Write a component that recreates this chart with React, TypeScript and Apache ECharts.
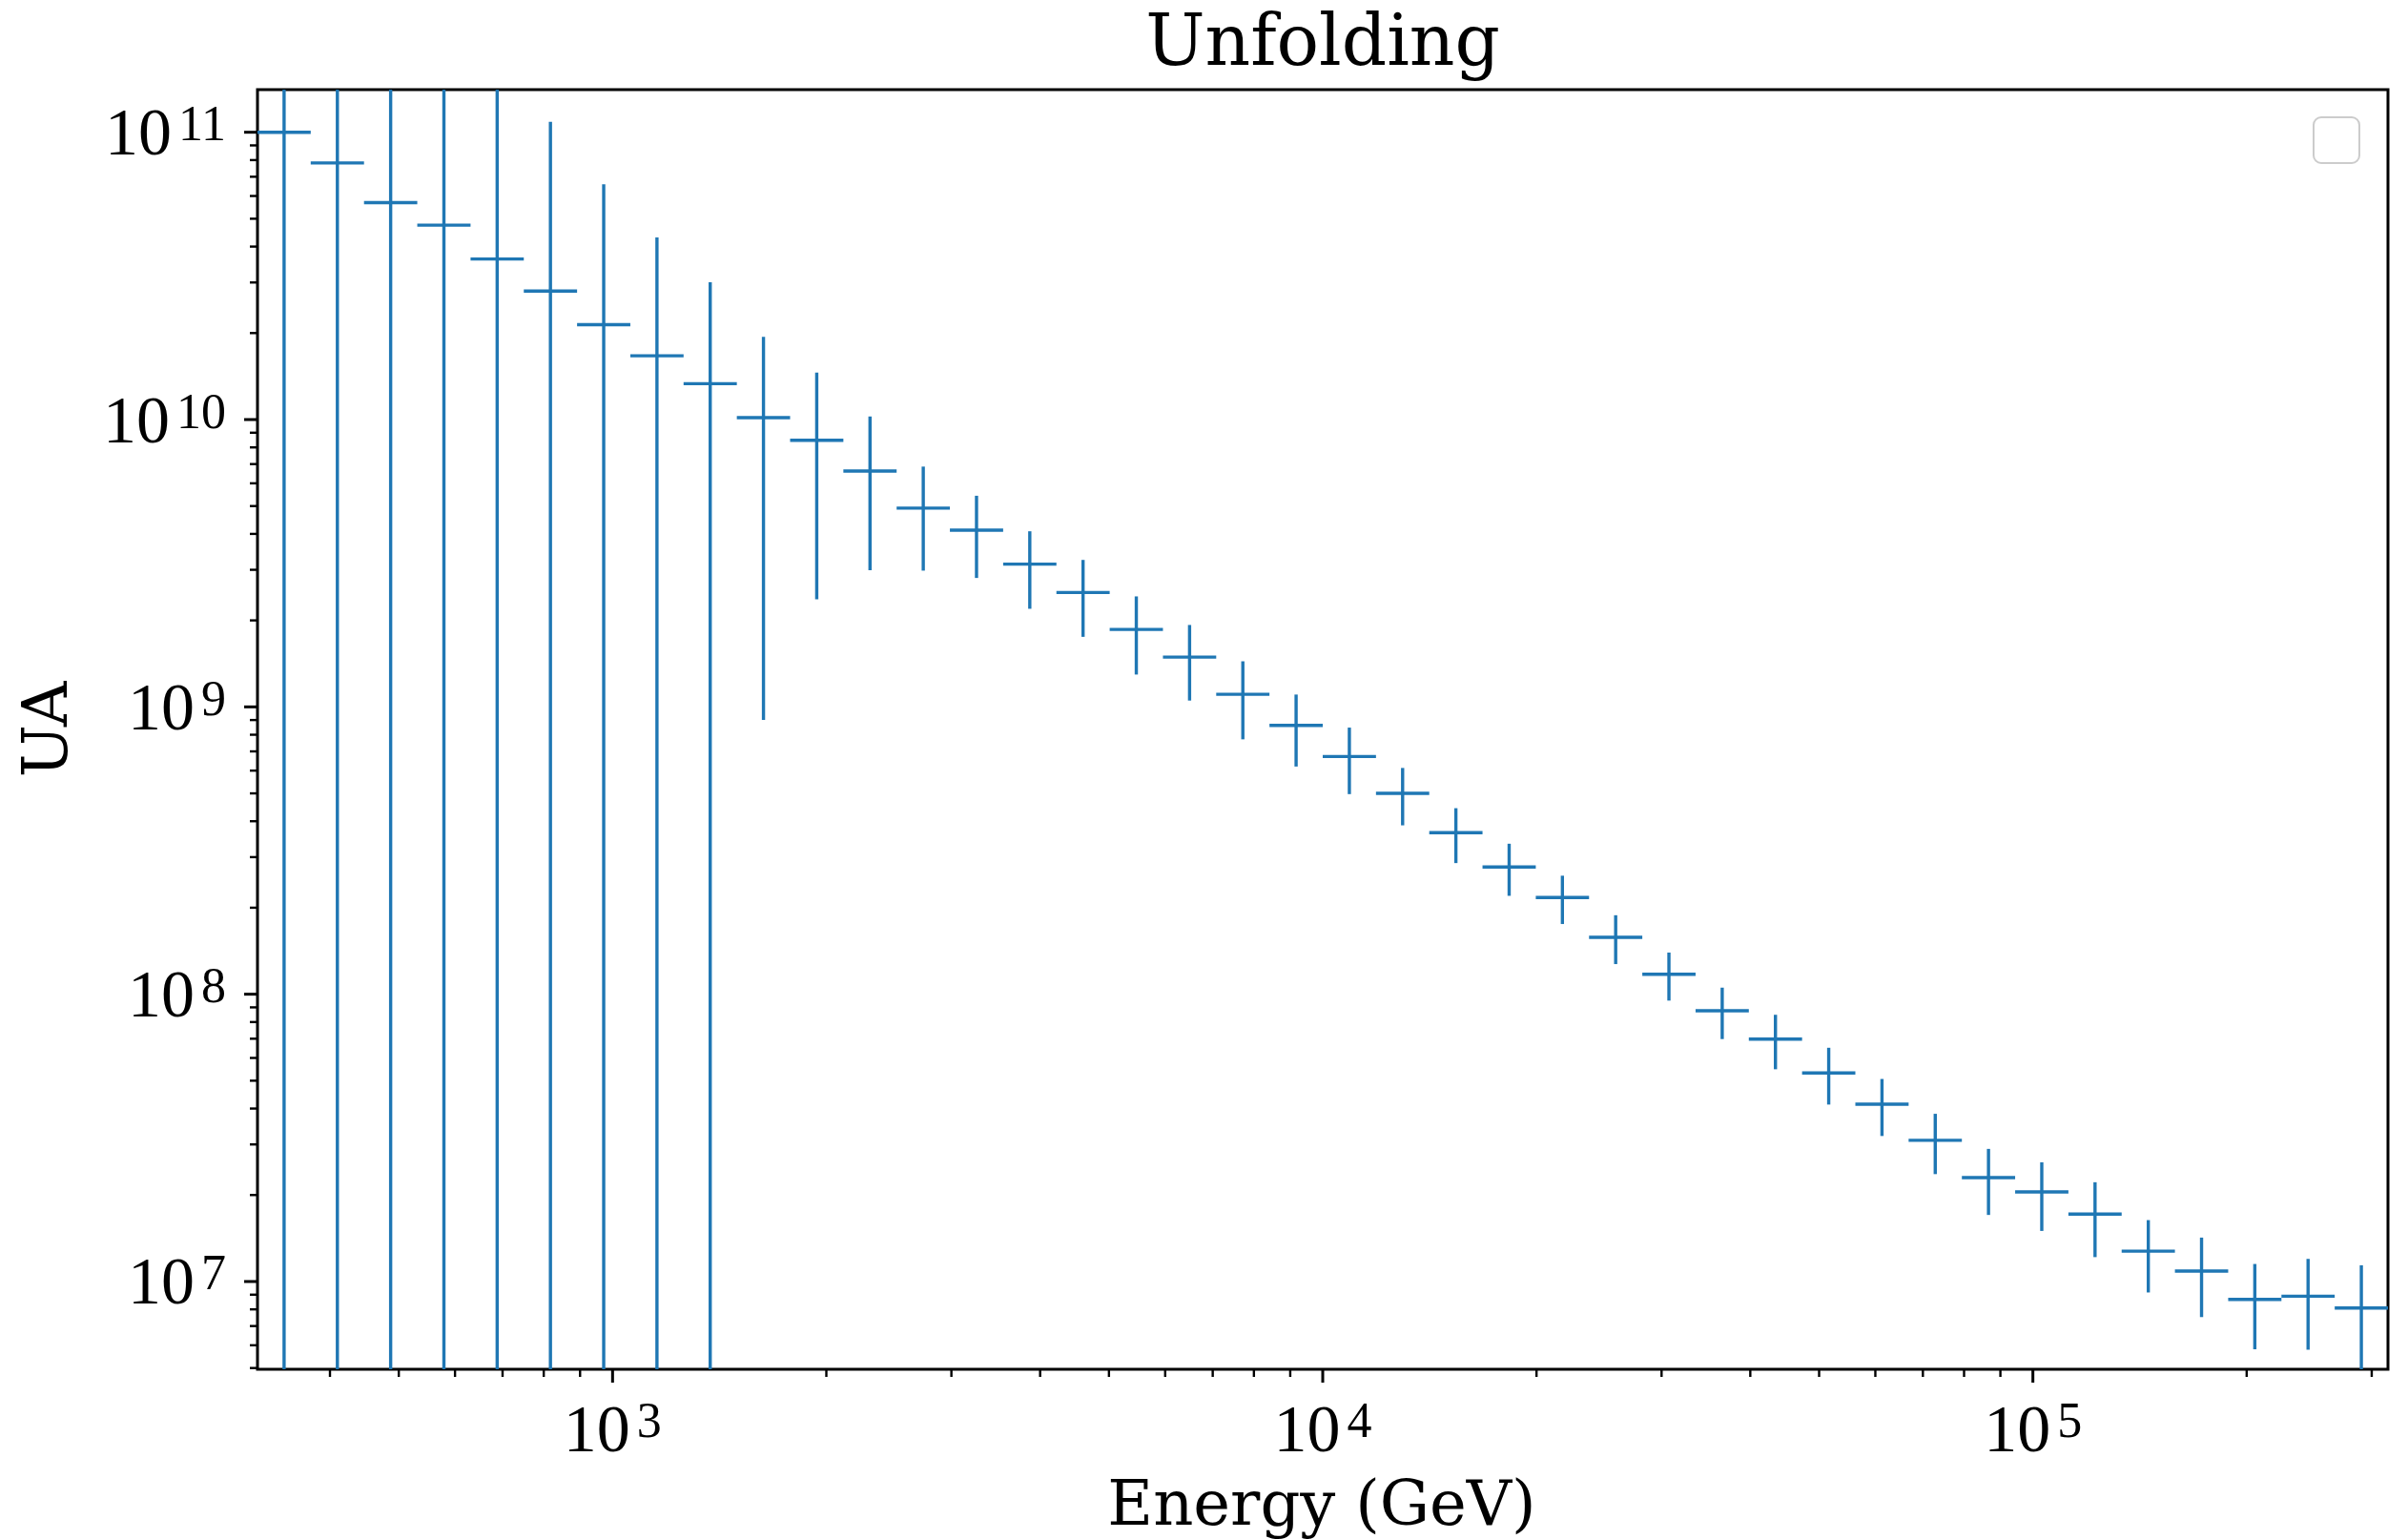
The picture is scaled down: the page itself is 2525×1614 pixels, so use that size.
import React, { useEffect, useRef } from "react";
import * as echarts from "echarts";

// ---------- data ----------
const binEdges = [
  316.2, 375.8, 446.7, 530.9, 631.0, 749.9, 891.3, 1059.3, 1258.9, 1496.2,
  1778.3, 2113.5, 2511.9, 2985.4, 3548.1, 4217.0, 5011.9, 5956.6, 7079.5, 8414.0,
  10000, 11885, 14125, 16788, 19953, 23714, 28184, 33497, 39811, 47315,
  56234, 66834, 79433, 94406, 112202, 133352, 158489, 188365, 223872, 266073,
  316228,
];
const flux = [
  1.0e11, 7.82e10, 5.69e10, 4.75e10, 3.62e10, 2.8e10, 2.14e10, 1.667e10, 1.333e10, 1.015e10,
  8.47e9, 6.62e9, 4.92e9, 4.12e9, 3.14e9, 2.5e9, 1.86e9, 1.49e9, 1.106e9, 8.62e8,
  6.72e8, 5.0e8, 3.65e8, 2.77e8, 2.17e8, 1.578e8, 1.173e8, 8.76e7, 6.98e7, 5.32e7,
  4.14e7, 3.1e7, 2.3e7, 2.05e7, 1.716e7, 1.276e7, 1.087e7, 8.66e6, 8.89e6, 8.09e6,
];
const fluxErr = [
  4.5e11, 3.2e11, 2.4e11, 1.8e11, 1.3e11, 8.07e10, 4.45e10, 2.64e10, 1.67e10, 9.25e9,
  6.1e9, 3.63e9, 1.94e9, 1.31e9, 9.45e8, 7.47e8, 5.64e8, 4.38e8, 3.35e8, 2.42e8,
  1.75e8, 1.13e8, 7.9e7, 5.7e7, 4.15e7, 3.05e7, 2.23e7, 1.78e7, 1.5e7, 1.19e7,
  9.3e6, 7.35e6, 5.95e6, 5.5e6, 5.0e6, 3.6e6, 3.35e6, 2.85e6, 3.1e6, 3.3e6,
];

const xLimits = [316.23, 316228];
const yLimits = [4.95e6, 1.407e11];

const xMajorTicks = [1e3, 1e4, 1e5];
const xMajorExp = ["3", "4", "5"];
const xMinorTicks = [
  400, 500, 600, 700, 800, 900,
  2000, 3000, 4000, 5000, 6000, 7000, 8000, 9000,
  20000, 30000, 40000, 50000, 60000, 70000, 80000, 90000,
  200000, 300000,
];
const yMajorTicks = [1e7, 1e8, 1e9, 1e10, 1e11];
const yMajorExp = ["7", "8", "9", "10", "11"];
const yMinorTicks = [
  5e6, 6e6, 7e6, 8e6, 9e6,
  2e7, 3e7, 4e7, 5e7, 6e7, 7e7, 8e7, 9e7,
  2e8, 3e8, 4e8, 5e8, 6e8, 7e8, 8e8, 9e8,
  2e9, 3e9, 4e9, 5e9, 6e9, 7e9, 8e9, 9e9,
  2e10, 3e10, 4e10, 5e10, 6e10, 7e10, 8e10, 9e10,
];

const TITLE = "Unfolding";
const X_LABEL = "Energy (GeV)";
const Y_LABEL = "UA";

// ---------- styles ----------
const BLUE = "#1f77b4";
const SERIF = "DejaVu Serif";
const TICK_FONT = "Liberation Serif";
const GRID = { left: 270, top: 94, width: 2234, height: 1342 };

const tickRich: any = {
  m: { fontFamily: TICK_FONT, fontSize: 70, lineHeight: 70, fill: "#000", color: "#000" },
  s: {
    fontFamily: TICK_FONT,
    fontSize: 52,
    lineHeight: 38,
    verticalAlign: "top",
    padding: [0, 0, 0, 7],
    fill: "#000",
    color: "#000",
  },
};

function tickLine(x1: number, y1: number, x2: number, y2: number, w: number) {
  return { type: "line", shape: { x1, y1, x2, y2 }, style: { stroke: "#000", lineWidth: w } };
}

export default function App() {
  const ref = useRef<HTMLDivElement>(null);

  useEffect(() => {
    if (!ref.current) return;
    const chart = echarts.init(ref.current, null, { renderer: "svg" });

    const option: any = {
      animation: false,
      backgroundColor: "#ffffff",
      grid: {
        ...GRID,
        show: true,
        borderColor: "#000",
        borderWidth: 3,
        backgroundColor: "transparent",
        containLabel: false,
      },
      xAxis: {
        type: "log",
        logBase: 10,
        min: xLimits[0],
        max: xLimits[1],
        axisLine: { show: false },
        axisTick: { show: false },
        axisLabel: { show: false },
        splitLine: { show: false },
        minorTick: { show: false },
      },
      yAxis: {
        type: "log",
        logBase: 10,
        min: yLimits[0],
        max: yLimits[1],
        axisLine: { show: false },
        axisTick: { show: false },
        axisLabel: { show: false },
        splitLine: { show: false },
        minorTick: { show: false },
      },
      graphic: [
        {
          type: "text",
          x: 1387,
          y: 42,
          style: {
            text: TITLE,
            fontFamily: SERIF,
            fontSize: 74,
            fill: "#000",
            align: "center",
            verticalAlign: "middle",
            textAlign: "center",
            textVerticalAlign: "middle",
          },
        },
        {
          type: "text",
          x: 1386,
          y: 1576,
          style: {
            text: X_LABEL,
            fontFamily: SERIF,
            fontSize: 65.5,
            fill: "#000",
            align: "center",
            verticalAlign: "middle",
            textAlign: "center",
            textVerticalAlign: "middle",
          },
        },
        {
          type: "text",
          x: 47,
          y: 765,
          rotation: Math.PI / 2,
          style: {
            text: Y_LABEL,
            fontFamily: SERIF,
            fontSize: 65.5,
            fill: "#000",
            align: "center",
            verticalAlign: "middle",
            textAlign: "center",
            textVerticalAlign: "middle",
          },
        },
        {
          type: "rect",
          shape: { x: 2426, y: 123, width: 48, height: 48, r: 8 },
          style: { fill: "#ffffff", stroke: "#cccccc", lineWidth: 2 },
        },
      ],
      series: [
        {
          name: "unfolded",
          type: "custom",
          coordinateSystem: "cartesian2d",
          clip: true,
          silent: true,
          data: flux.map((v, i) => [binEdges[i], binEdges[i + 1], v, fluxErr[i]]),
          encode: { x: [0, 1], y: [2] },
          renderItem: (params: any, api: any) => {
            const lo = api.value(0);
            const hi = api.value(1);
            const y = api.value(2);
            const e = api.value(3);
            const xc = Math.sqrt(lo * hi);
            const a = api.coord([lo, y]);
            const b = api.coord([hi, y]);
            const upper = Math.min(y + e, yLimits[1]);
            const lower = y - e > yLimits[0] ? y - e : yLimits[0];
            const t = api.coord([xc, upper]);
            const d = api.coord([xc, lower]);
            const st = { stroke: BLUE, lineWidth: 3.4 };
            return {
              type: "group",
              children: [
                { type: "line", shape: { x1: a[0], y1: a[1], x2: b[0], y2: b[1] }, style: st },
                { type: "line", shape: { x1: t[0], y1: t[1], x2: d[0], y2: d[1] }, style: st },
              ],
            };
          },
        },
        {
          name: "xMajor",
          type: "custom",
          coordinateSystem: "cartesian2d",
          clip: false,
          silent: true,
          data: xMajorTicks.map((v) => [v, yLimits[0]]),
          encode: { x: 0, y: 1 },
          renderItem: (params: any, api: any) => {
            const p = api.coord([api.value(0), yLimits[0]]);
            return {
              type: "group",
              children: [
                tickLine(p[0], p[1], p[0], p[1] + 14, 3),
                {
                  type: "text",
                  style: {
                    text: `{m|10}{s|${xMajorExp[params.dataIndex]}}`,
                    rich: tickRich,
                    x: p[0],
                    y: p[1] + 62,
                    align: "center",
                    verticalAlign: "middle",
                  },
                },
              ],
            };
          },
        },
        {
          name: "xMinor",
          type: "custom",
          coordinateSystem: "cartesian2d",
          clip: false,
          silent: true,
          data: xMinorTicks.map((v) => [v, yLimits[0]]),
          encode: { x: 0, y: 1 },
          renderItem: (params: any, api: any) => {
            const p = api.coord([api.value(0), yLimits[0]]);
            return tickLine(p[0], p[1], p[0], p[1] + 8, 2.4);
          },
        },
        {
          name: "yMajor",
          type: "custom",
          coordinateSystem: "cartesian2d",
          clip: false,
          silent: true,
          data: yMajorTicks.map((v) => [xLimits[0], v]),
          encode: { x: 0, y: 1 },
          renderItem: (params: any, api: any) => {
            const p = api.coord([xLimits[0], api.value(1)]);
            return {
              type: "group",
              children: [
                tickLine(p[0], p[1], p[0] - 14, p[1], 3),
                {
                  type: "text",
                  style: {
                    text: `{m|10}{s|${yMajorExp[params.dataIndex]}}`,
                    rich: tickRich,
                    x: p[0] - 33,
                    y: p[1],
                    align: "right",
                    verticalAlign: "middle",
                  },
                },
              ],
            };
          },
        },
        {
          name: "yMinor",
          type: "custom",
          coordinateSystem: "cartesian2d",
          clip: false,
          silent: true,
          data: yMinorTicks.map((v) => [xLimits[0], v]),
          encode: { x: 0, y: 1 },
          renderItem: (params: any, api: any) => {
            const p = api.coord([xLimits[0], api.value(1)]);
            return tickLine(p[0], p[1], p[0] - 8, p[1], 2.4);
          },
        },
      ],
    };

    chart.setOption(option);
    return () => chart.dispose();
  }, []);

  return (
    <div
      ref={ref}
      style={{ position: "fixed", left: 0, top: 0, width: 2525, height: 1614, background: "#fff" }}
    />
  );
}
